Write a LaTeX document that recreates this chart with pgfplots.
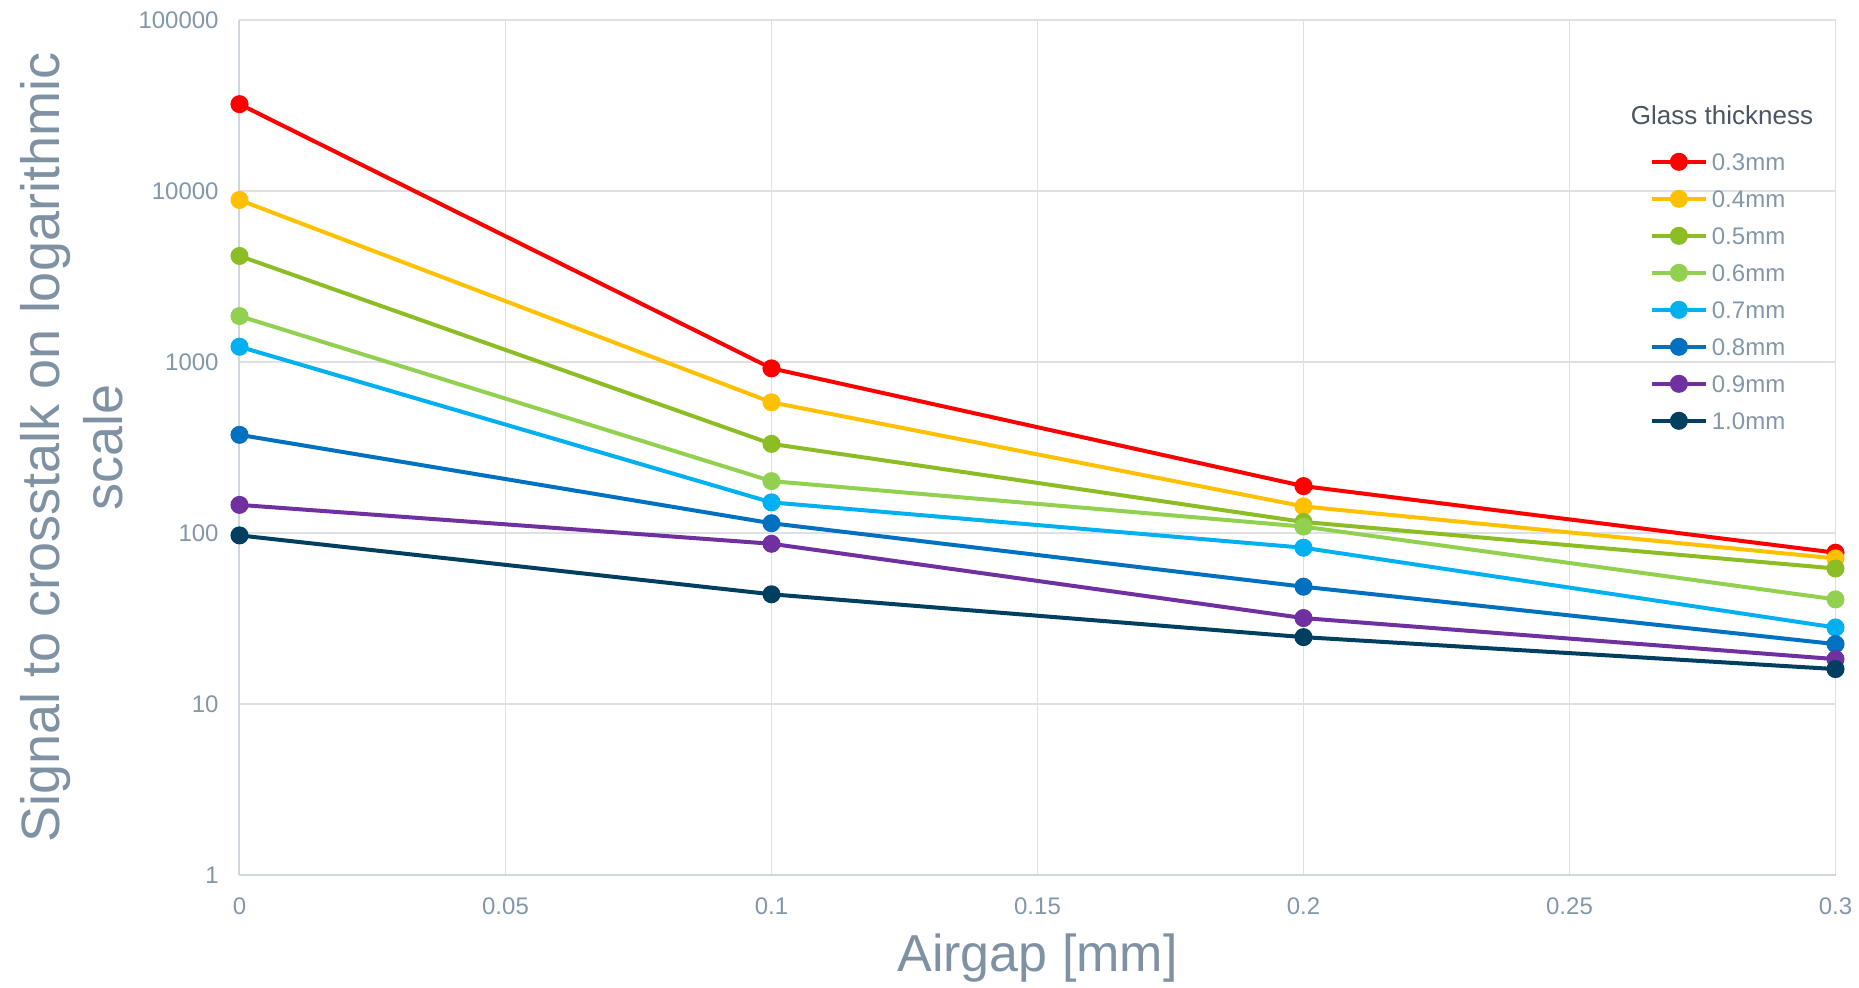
\documentclass[border=0pt]{standalone}
\usepackage{fontspec}
\setmainfont{Liberation Sans}
\usepackage{pgfplots}
\pgfplotsset{compat=1.18}
\definecolor{cRed}{HTML}{FF0000}
\definecolor{cYellow}{HTML}{FFC000}
\definecolor{cDGreen}{HTML}{8CBD24}
\definecolor{cLGreen}{HTML}{92D050}
\definecolor{cCyan}{HTML}{00B0F0}
\definecolor{cBlue}{HTML}{0070C0}
\definecolor{cPurple}{HTML}{7030A0}
\definecolor{cNavy}{HTML}{003F5F}
\definecolor{tickgray}{HTML}{8496A9}
\definecolor{labelgray}{HTML}{7F92A3}
\definecolor{titlegray}{HTML}{4A5664}
\definecolor{gridgray}{HTML}{DDE1E6}
\definecolor{axisgray}{HTML}{D0D6DD}
\begin{document}
\begin{tikzpicture}
\useasboundingbox (-119.75pt,-56.5pt) rectangle (809.75pt,437.5pt);
\begin{axis}[
  at={(0,0)}, anchor=south west,
  scale only axis, width=798pt, height=427.5pt,
  ymode=log, ymin=1, ymax=100000, xmin=0, xmax=0.3,
  axis lines=left,
  axis line style={draw=axisgray, line width=1pt, -},
  grid=major,
  major grid style={draw=gridgray, line width=0.8pt},
  major tick length=0pt, minor tick length=0pt,
  yminorticks=false, xminorticks=false,
  ytick={1,10,100,1000,10000,100000},
  yticklabels={1,10,100,1000,10000,100000},
  xtick={0,0.05,0.1,0.15,0.2,0.25,0.3},
  xticklabels={0,0.05,0.1,0.15,0.2,0.25,0.3},
  /pgf/number format/assume math mode=true,
  tick label style={font=\fontsize{12}{14}\selectfont, text=tickgray, inner sep=0pt},
  yticklabel shift=10.25pt,
  xticklabel shift=11.25pt,
  xlabel={Airgap [mm]},
  ylabel={Signal to crosstalk on logarithmic\\scale},
  xlabel style={font=\fontsize{26}{31.5}\selectfont, text=labelgray, at={(axis description cs:0.5,-0.0971)}, anchor=center},
  ylabel style={font=\fontsize{27}{31.5}\selectfont, text=labelgray, align=center, at={(axis description cs:-0.105,0.5)}, anchor=center},
  every axis plot/.append style={line width=2pt, mark=*, mark size=3.5pt, mark options={solid}},
  legend image code/.code={\draw[mark repeat=2,mark phase=2,#1] plot coordinates {(0pt,0pt) (13.5pt,0pt) (27pt,0pt)};},
  legend cell align=left,
  legend style={draw=none, fill=none, at={(axis description cs:0.8797,0.8609)}, anchor=north west,
    font=\fontsize{12}{14}\selectfont, text=tickgray, row sep=0pt, column sep=2pt,
    nodes={inner sep=0pt, text height=13.5pt, text depth=5pt}},
]
\addplot[color=cRed] coordinates {(0,32200) (0.1,918) (0.2,188) (0.3,76.7)};
\addlegendentry{0.3mm}
\addplot[color=cYellow] coordinates {(0,8860) (0.1,581) (0.2,143) (0.3,71)};
\addlegendentry{0.4mm}
\addplot[color=cDGreen] coordinates {(0,4170) (0.1,332) (0.2,116) (0.3,62)};
\addlegendentry{0.5mm}
\addplot[color=cLGreen] coordinates {(0,1856) (0.1,201) (0.2,109) (0.3,40.9)};
\addlegendentry{0.6mm}
\addplot[color=cCyan] coordinates {(0,1228) (0.1,151) (0.2,82) (0.3,28)};
\addlegendentry{0.7mm}
\addplot[color=cBlue] coordinates {(0,375) (0.1,114) (0.2,48.5) (0.3,22.4)};
\addlegendentry{0.8mm}
\addplot[color=cPurple] coordinates {(0,146) (0.1,86.5) (0.2,31.8) (0.3,18.3)};
\addlegendentry{0.9mm}
\addplot[color=cNavy] coordinates {(0,96.8) (0.1,43.8) (0.2,24.6) (0.3,16.0)};
\addlegendentry{1.0mm}
\node[font=\fontsize{13}{15}\selectfont, text=titlegray, anchor=center] at (axis description cs:0.9289,0.8889) {Glass thickness};
\end{axis}
\end{tikzpicture}
\end{document}
